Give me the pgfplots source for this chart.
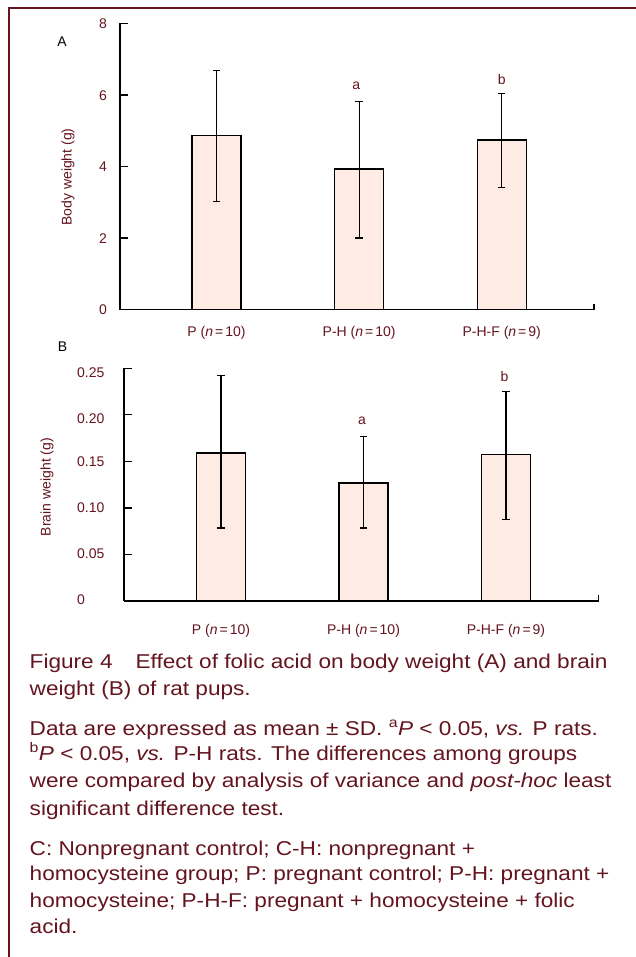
\documentclass[border=0pt]{standalone}
\usepackage{fontspec}
\setmainfont{Liberation Sans}
\newfontfamily\capfont[FakeStretch=1.13]{Liberation Sans}
\usepackage{pgfplots}
\usepackage{pgfplotstable}
\pgfplotsset{compat=1.18}
\definecolor{maroon}{RGB}{100,20,30}
\definecolor{barfill}{RGB}{253,235,228}

\pgfplotstableread{
x y ep em
0 4.87 1.82 1.86
1 3.93 1.90 1.93
2 4.74 1.31 1.32
}\dataA
\pgfplotstableread{
x y ep em
0 0.159 0.083 0.0806
1 0.1268 0.0497 0.0484
2 0.1576 0.0677 0.0696
}\dataB

\newcommand{\chf}{\fontsize{14}{16}\selectfont}

\pgfplotsset{
 mybars/.style={
  scale only axis,
  axis lines*=left,
  axis line style={black, line width=1.3pt, -},
  tick align=inside,
  xtick={0,1,2},
  xticklabels={P (\textit{n}\kern2pt=\kern2pt10), P-H (\textit{n}\kern2pt=\kern2pt10), P-H-F (\textit{n}\kern2pt=\kern2pt9)},
  xtick style={draw=none},
  ytick style={black, line width=1.2pt},
  major tick length=8pt,
  ytick pos=left, xtick pos=bottom,
  every tick label/.append style={font=\chf, text=maroon, inner sep=0pt},
  xticklabel style={anchor=base},
  ylabel style={anchor=center, font=\chf, text=maroon},
  ybar, bar width=49pt,
  clip=false,
 },
 mybar/.style={fill=barfill, draw=black, line width=1.3pt,
   error bars/.cd, y dir=both, y explicit,
   error bar style={black, line width=1.1pt},
   error mark options={rotate=90, black, mark size=3.7pt, line width=1.1pt}},
}

\begin{document}
\begin{tikzpicture}
\path[use as bounding box] (0pt,0pt) rectangle (636pt,-957pt);
\draw[maroon, line width=2pt] (636pt,-7.8pt) -- (8.5pt,-7.8pt) -- (8.5pt,-957pt);

\begin{axis}[mybars, at={(120pt,-309.5pt)}, anchor=south west,
  width=474pt, height=286pt,
  xmin=-0.6767, xmax=2.6473, ymin=0, ymax=8,
  ytick={0,2,4,6,8}, yticklabels={0,2,4,6,8},
  yticklabel style={anchor=base east, xshift=-13pt, yshift=-5.4pt},
  xticklabel style={yshift=-18.8pt},
  ylabel={Body weight (g)},
  ylabel style={at={(axis description cs:-0.1097,0.4633)}},
]
\addplot[mybar] table[x=x, y=y, y error plus=ep, y error minus=em] {\dataA};
\draw[black, line width=1.2pt] (rel axis cs:1,0) -- ++(0pt,6pt);
\node[anchor=base, text=maroon, font=\chf, inner sep=0pt] at (axis cs:0.98,6.14) {a};
\node[anchor=base, text=maroon, font=\chf, inner sep=0pt] at (axis cs:2,6.28) {b};
\end{axis}

\begin{axis}[mybars, at={(124pt,-601pt)}, anchor=south west,
  width=474.7pt, height=232.7pt,
  xmin=-0.6807, xmax=2.6505, ymin=0, ymax=0.25,
  ytick={0,0.05,0.1,0.15,0.2,0.25},
  yticklabels={\raisebox{2pt}{0},\raisebox{0.7pt}{0.05},\raisebox{0.7pt}{0.10},\raisebox{-0.3pt}{0.15},\raisebox{-3.3pt}{0.20},\raisebox{-4pt}{0.25}},
  yticklabel style={anchor=base west, xshift=-47pt, yshift=-5pt},
  xticklabel style={yshift=-25pt},
  ylabel={Brain weight (g)},
  ylabel style={at={(axis description cs:-0.1622,0.49)}},
]
\addplot[mybar] table[x=x, y=y, y error plus=ep, y error minus=em] {\dataB};
\draw[black, line width=1.2pt] (rel axis cs:1,0) -- ++(0pt,6pt);
\node[anchor=base, text=maroon, font=\chf, inner sep=0pt] at (axis cs:0.99,0.1898) {a};
\node[anchor=base, text=maroon, font=\chf, inner sep=0pt] at (axis cs:1.99,0.2356) {b};
\end{axis}

\node[anchor=base, font=\chf, inner sep=0pt] at (62pt,-46.7pt) {A};
\node[anchor=base, font=\chf, inner sep=0pt] at (62.5pt,-351.7pt) {B};

\begin{scope}[every node/.style={anchor=base west, inner sep=0pt, text=maroon, font=\capfont\fontsize{20}{27}\selectfont}]
\node at (29.5pt,-668pt) {Figure 4\hspace{23pt}Effect of folic acid on body weight (A) and brain};
\node at (29.5pt,-695pt) {weight (B) of rat pups.};
\node at (29.5pt,-735pt) {Data are expressed as mean ± SD. \textsuperscript{a}\textit{P} < 0.05, \textit{vs.} P rats.};
\node at (29.5pt,-760pt) {\textsuperscript{b}\textit{P} < 0.05, \textit{vs.} P-H rats. The differences among groups};
\node at (29.5pt,-787pt) {were compared by analysis of variance and \textit{post-hoc} least};
\node at (29.5pt,-815pt) {significant difference test.};
\node at (29.5pt,-855pt) {C: Nonpregnant control; C-H: nonpregnant +};
\node at (29.5pt,-880pt) {homocysteine group; P: pregnant control; P-H: pregnant +};
\node at (29.5pt,-907pt) {homocysteine; P-H-F: pregnant + homocysteine + folic};
\node at (29.5pt,-933pt) {acid.};
\end{scope}
\end{tikzpicture}
\end{document}
